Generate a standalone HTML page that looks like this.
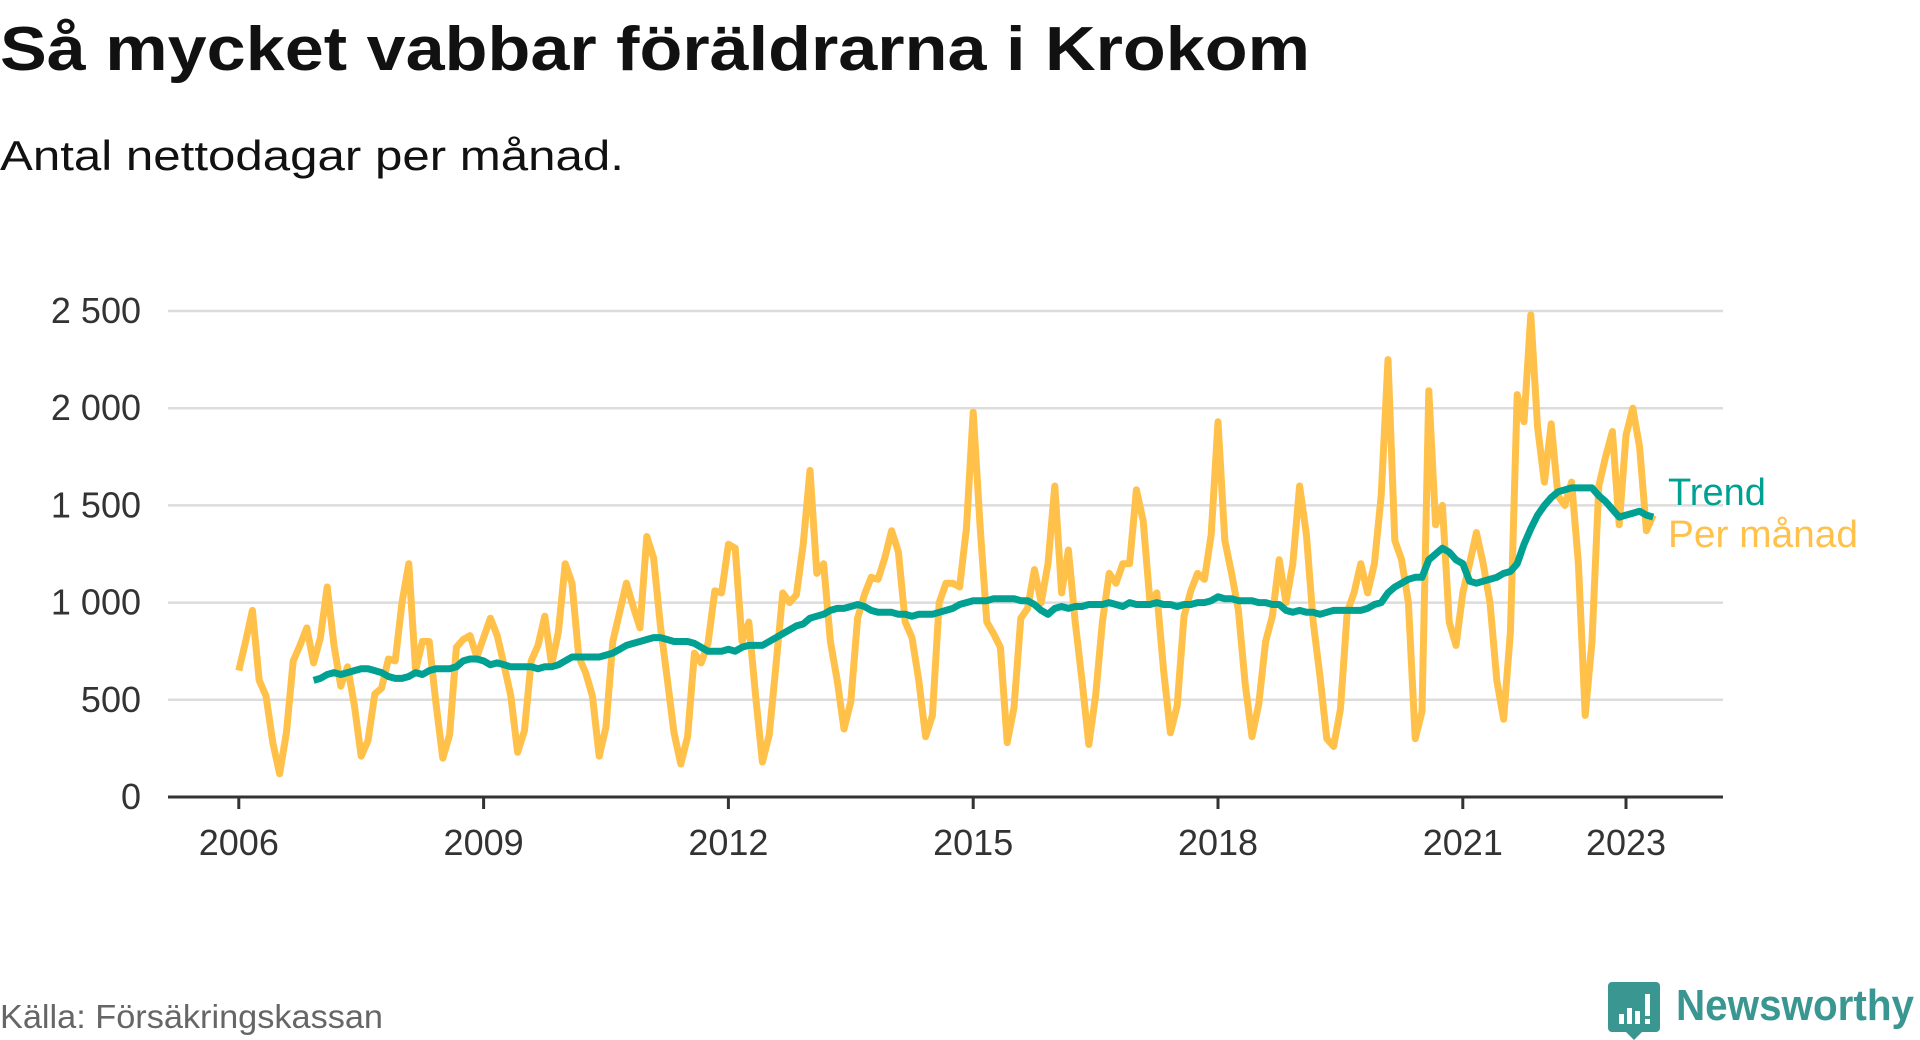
<!DOCTYPE html>
<html><head><meta charset="utf-8"><style>
html,body{margin:0;padding:0;background:#fff;}
svg{display:block;}
text{font-family:"Liberation Sans",sans-serif;}
</style></head><body>
<svg id="chart" width="1920" height="1040" viewBox="0 0 1920 1040" xmlns="http://www.w3.org/2000/svg">
<text x="0" y="70" font-size="62" font-weight="bold" fill="#111" textLength="1310" lengthAdjust="spacingAndGlyphs">Så mycket vabbar föräldrarna i Krokom</text>
<text x="0" y="170" font-size="42" fill="#111" textLength="624" lengthAdjust="spacingAndGlyphs">Antal nettodagar per månad.</text>
<g id="grid"></g>
<g id="series"></g>
<text x="1668" y="505" font-size="38" fill="#00a192">Trend</text>
<text x="1668" y="547" font-size="38" fill="#ffc14a" textLength="190" lengthAdjust="spacingAndGlyphs">Per månad</text>
<text x="0" y="1028" font-size="33" fill="#666" textLength="383" lengthAdjust="spacingAndGlyphs">Källa: Försäkringskassan</text>
<g>
<path d="M1612 982 h44 a4 4 0 0 1 4 4 v42 a4 4 0 0 1 -4 4 h-14 l-8 8 l-8 -8 h-14 a4 4 0 0 1 -4 -4 v-42 a4 4 0 0 1 4 -4z" fill="#3a9690"/>
<rect x="1619" y="1014" width="5" height="10" fill="#fff"/>
<rect x="1627" y="1008" width="5" height="16" fill="#fff"/>
<rect x="1635" y="1011" width="5" height="13" fill="#fff"/>
<rect x="1645" y="994" width="5" height="22" fill="#fff"/>
<rect x="1645" y="1019" width="5" height="5" fill="#fff"/>
<text x="1676" y="1020" font-size="44" font-weight="bold" fill="#3a9690" textLength="238" lengthAdjust="spacingAndGlyphs">Newsworthy</text>
</g>
</svg>
<script>
const yTicks = [0, 500, 1000, 1500, 2000, 2500];
const yTickLabels = ["0", "500", "1 000", "1 500", "2 000", "2 500"];
const xTickYears = [2006, 2009, 2012, 2015, 2018, 2021, 2023];
const startYear = 2006;
const perMonth = [
650,800,960,600,520,280,120,330,700,780,870,690,
820,1080,780,570,670,470,210,290,530,560,710,700,
1000,1200,650,800,800,480,200,320,770,810,830,720,
820,920,830,680,520,230,340,700,780,930,680,850,
1200,1100,720,640,520,210,360,800,950,1100,980,870,
1340,1230,880,610,330,170,310,740,690,790,1060,1050,
1300,1280,800,900,520,180,320,680,1050,1000,1040,1300,
1680,1150,1200,800,600,350,490,920,1040,1130,1120,1230,
1370,1260,900,820,600,310,420,1000,1100,1100,1080,1380,
1980,1400,900,840,770,280,460,920,970,1170,1000,1200,
1600,1050,1270,900,600,270,520,900,1150,1100,1200,1200,
1580,1420,1000,1050,650,330,470,930,1060,1150,1120,1350,
1930,1320,1150,960,580,310,480,800,930,1220,1000,1200,
1600,1350,900,620,300,260,450,950,1050,1200,1050,1200,
1550,2250,1320,1220,1000,300,440,2090,1400,1500,900,780,
1050,1200,1360,1200,1000,600,400,850,2070,1930,2480,1900,
1620,1920,1550,1500,1620,1200,420,800,1600,1750,1880,1400,
1860,2000,1800,1370,1450];
const trendStart = 11;
const trend = [
600,
610,630,640,630,640,650,660,660,650,640,620,610,
610,620,640,630,650,660,660,660,670,700,710,710,
700,680,690,680,670,670,670,670,660,670,670,680,
700,720,720,720,720,720,730,740,760,780,790,800,
810,820,820,810,800,800,800,790,770,750,750,750,
760,750,770,780,780,780,800,820,840,860,880,890,
920,930,940,960,970,970,980,990,980,960,950,950,
950,940,940,930,940,940,940,950,960,970,990,1000,
1010,1010,1010,1020,1020,1020,1020,1010,1010,990,960,940,
970,980,970,980,980,990,990,990,1000,990,980,1000,
990,990,990,1000,990,990,980,990,990,1000,1000,1010,
1030,1020,1020,1010,1010,1010,1000,1000,990,990,960,950,
960,950,950,940,950,960,960,960,960,960,970,990,
1000,1050,1080,1100,1120,1130,1130,1220,1250,1280,1260,1220,
1200,1110,1100,1110,1120,1130,1150,1160,1200,1300,1380,1450,
1500,1540,1570,1580,1590,1590,1590,1590,1550,1520,1480,1440,
1450,1460,1470,1450,1440];

const NS = "http://www.w3.org/2000/svg";
const plotL = 168, plotR = 1723, y0 = 797, yTop = 311;
function xScale(m){ return 238.8 + m * 81.6 / 12; }
function yScale(v){ return y0 - v * (y0 - yTop) / 2500; }

const grid = document.getElementById('grid');
yTicks.forEach((t, i) => {
  if (t > 0) {
    const l = document.createElementNS(NS, 'line');
    
    
    l.setAttribute('x1', plotL); l.setAttribute('x2', plotR);
    l.setAttribute('y1', yScale(t)); l.setAttribute('y2', yScale(t));
    l.setAttribute('stroke', '#dcdcdc'); l.setAttribute('stroke-width', '2.5');
    grid.appendChild(l);
  }
  const tx = document.createElementNS(NS, 'text');
  
  
  tx.setAttribute('x', 141); tx.setAttribute('y', yScale(t) + 12);
  tx.setAttribute('text-anchor', 'end'); tx.setAttribute('font-size', '36');
  tx.setAttribute('fill', '#333');
  tx.textContent = yTickLabels[i];
  grid.appendChild(tx);
});
const ax = document.createElementNS(NS, 'line');


ax.setAttribute('x1', plotL); ax.setAttribute('x2', plotR);
ax.setAttribute('y1', y0); ax.setAttribute('y2', y0);
ax.setAttribute('stroke', '#333'); ax.setAttribute('stroke-width', '3');
grid.appendChild(ax);
xTickYears.forEach(yr => {
  const x = xScale((yr - startYear) * 12);
  const tk = document.createElementNS(NS, 'line');
  
  
  tk.setAttribute('x1', x); tk.setAttribute('x2', x);
  tk.setAttribute('y1', y0); tk.setAttribute('y2', y0 + 12);
  tk.setAttribute('stroke', '#333'); tk.setAttribute('stroke-width', '3');
  grid.appendChild(tk);
  const tx = document.createElementNS(NS, 'text');
  
  
  tx.setAttribute('x', x); tx.setAttribute('y', 855);
  tx.setAttribute('text-anchor', 'middle'); tx.setAttribute('font-size', '36');
  tx.setAttribute('fill', '#333');
  tx.textContent = String(yr);
  grid.appendChild(tx);
});

const series = document.getElementById('series');
function drawLine(vals, offset, color, width, name){
  const pts = vals.map((v, i) => xScale(i + offset).toFixed(1) + ',' + yScale(v).toFixed(1)).join(' ');
  const p = document.createElementNS(NS, 'polyline');
  
  
  p.setAttribute('points', pts);
  p.setAttribute('fill', 'none'); p.setAttribute('stroke', color);
  p.setAttribute('stroke-width', width); p.setAttribute('stroke-linejoin', 'round');
  series.appendChild(p);
}
drawLine(perMonth, 0, '#ffc14a', 7, 'per-month-line');
drawLine(trend, trendStart, '#00a192', 7, 'trend-line');
</script>
</body></html>
